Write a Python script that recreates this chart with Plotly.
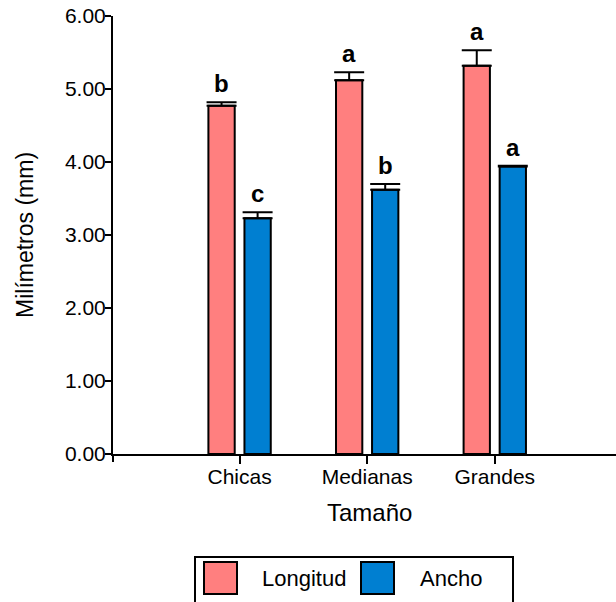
import plotly.graph_objects as go

categories = ["Chicas", "Medianas", "Grandes"]
longitud = [4.77, 5.12, 5.32]
longitud_err = [0.05, 0.11, 0.21]
ancho = [3.23, 3.62, 3.94]
ancho_err = [0.08, 0.08, 0.01]
letters_longitud = ["b", "a", "a"]
letters_ancho = ["c", "b", "a"]
y_ticks = [0, 1, 2, 3, 4, 5, 6]

PINK = "#FF7F7F"
BLUE = "#007FD1"
FONT = "Liberation Sans, Arial, sans-serif"

# plot area in pixels
L, R, T, B = 113, 616, 16, 454
W_PX, H_PX = 616, 602


def px(x):
    return (x - L) / (R - L)


def py(y):
    return (B - y) / (B - T)


fig = go.Figure()
fig.add_trace(go.Bar(
    x=categories, y=longitud, name="Longitud",
    marker=dict(color=PINK, line=dict(color="black", width=2)),
    error_y=dict(type="data", symmetric=False, array=longitud_err,
                 arrayminus=[0] * len(longitud_err),
                 color="black", thickness=2, width=15),
    showlegend=False,
))
fig.add_trace(go.Bar(
    x=categories, y=ancho, name="Ancho",
    marker=dict(color=BLUE, line=dict(color="black", width=2)),
    error_y=dict(type="data", symmetric=False, array=ancho_err,
                 arrayminus=[0] * len(ancho_err),
                 color="black", thickness=2, width=15),
    showlegend=False,
))

annotations = []
for i, c in enumerate(categories):
    annotations.append(dict(
        x=c, y=longitud[i] + longitud_err[i], xref="x", yref="y",
        text="<b>%s</b>" % letters_longitud[i], showarrow=False,
        xshift=-18, yanchor="bottom", yshift=3,
        font=dict(family=FONT, size=24, color="black")))
    annotations.append(dict(
        x=c, y=ancho[i] + ancho_err[i], xref="x", yref="y",
        text="<b>%s</b>" % letters_ancho[i], showarrow=False,
        xshift=18, yanchor="bottom", yshift=3,
        font=dict(family=FONT, size=24, color="black")))

# axis titles
annotations.append(dict(
    x=px(369), y=py(512), xref="paper", yref="paper", text="Tamaño",
    showarrow=False, xanchor="center", yanchor="middle",
    font=dict(family=FONT, size=24, color="black")))
annotations.append(dict(
    x=px(25), y=py(235), xref="paper", yref="paper", text="Milímetros (mm)",
    showarrow=False, xanchor="center", yanchor="middle", textangle=-90,
    font=dict(family=FONT, size=23, color="black")))

# legend texts
annotations.append(dict(
    x=px(304), y=py(578), xref="paper", yref="paper", text="Longitud",
    showarrow=False, xanchor="center", yanchor="middle",
    font=dict(family=FONT, size=22, color="black")))
annotations.append(dict(
    x=px(451), y=py(578), xref="paper", yref="paper", text="Ancho",
    showarrow=False, xanchor="center", yanchor="middle",
    font=dict(family=FONT, size=22, color="black")))

shapes = [
    # legend box
    dict(type="rect", xref="paper", yref="paper",
         x0=px(195), x1=px(513), y0=py(557), y1=py(620),
         line=dict(color="black", width=2), fillcolor="rgba(0,0,0,0)"),
    dict(type="rect", xref="paper", yref="paper",
         x0=px(204), x1=px(237), y0=py(562), y1=py(594),
         line=dict(color="black", width=2), fillcolor=PINK),
    dict(type="rect", xref="paper", yref="paper",
         x0=px(361), x1=px(394), y0=py(562), y1=py(594),
         line=dict(color="black", width=2), fillcolor=BLUE),
    # left-end tick of x axis
    dict(type="line", xref="paper", yref="paper",
         x0=0, x1=0, y0=0, y1=py(462),
         line=dict(color="black", width=2)),
]

fig.update_layout(
    width=W_PX, height=H_PX,
    margin=dict(l=L, r=W_PX - R, t=T, b=H_PX - B),
    paper_bgcolor="white", plot_bgcolor="white",
    barmode="group", bargap=0.435, bargroupgap=0.27,
    font=dict(family=FONT, size=21, color="black"),
    annotations=annotations, shapes=shapes,
    xaxis=dict(range=[-0.992, 2.95], showline=True, linecolor="black",
               linewidth=2, ticks="outside", ticklen=8, tickwidth=2,
               tickcolor="black", showgrid=False, zeroline=False,
               ticklabelstandoff=-5,
               tickfont=dict(family=FONT, size=21, color="black")),
    yaxis=dict(range=[0, 6], tickvals=y_ticks, tickformat=".2f",
               showline=True, linecolor="black", linewidth=2,
               ticks="outside", ticklen=6, tickwidth=2, tickcolor="black",
               showgrid=False, zeroline=False, ticklabelstandoff=-5,
               tickfont=dict(family=FONT, size=21, color="black")),
)

fig.write_html("out.html")
